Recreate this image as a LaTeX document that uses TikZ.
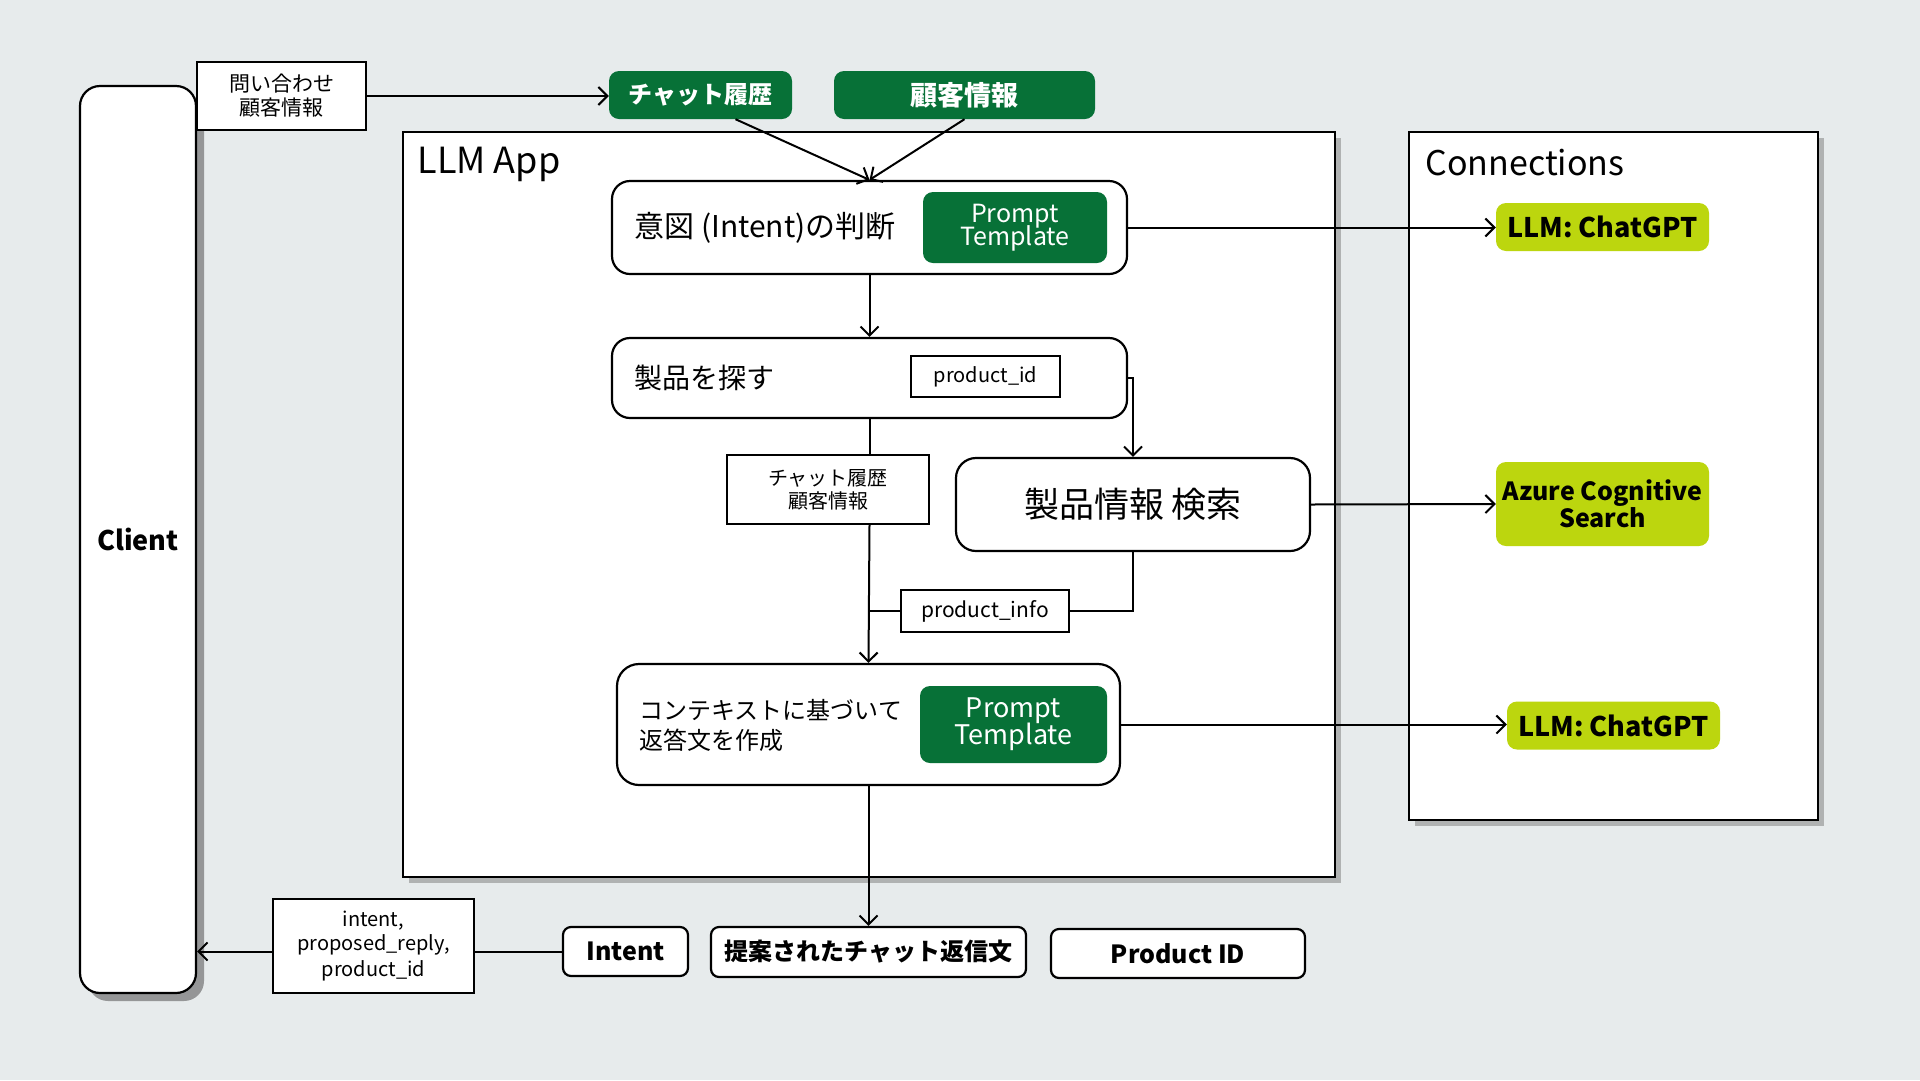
\documentclass[tikz,border=0pt]{standalone}
\usepackage{fontspec}
\setmainfont{Noto Sans CJK JP}
\usetikzlibrary{arrows.meta,shadows,calc}
\definecolor{bgc}{RGB}{231,235,236}
\definecolor{dkgreen}{RGB}{7,113,55}
\definecolor{limec}{RGB}{188,214,14}
\newcommand\fsz[1]{\fontsize{#1}{#1}\selectfont}
\tikzset{
  rbox/.style={draw, line width=2.2pt, fill=white, rounded corners=18pt, inner sep=0pt},
  sqbox/.style={draw, line width=2pt, fill=white, inner sep=0pt, align=center},
  gbox/.style={fill=dkgreen, rounded corners=10pt, text=white, inner sep=0pt, align=center},
  lbox/.style={fill=limec, rounded corners=10pt, inner sep=0pt, align=center},
  wbox/.style={draw, line width=2.2pt, fill=white, rounded corners=8pt, inner sep=0pt, align=center},
  frame/.style={draw, line width=2.2pt, fill=white, inner sep=0pt},
  shad/.style={drop shadow={shadow xshift=6pt, shadow yshift=-6pt, fill=black!45, opacity=0.6}},
  arr/.style={line width=2pt, -{Straight Barb[length=9pt,width=18pt,line width=2pt]}},
  ln/.style={line width=2pt},
}
\begin{document}
\begin{tikzpicture}[x=1pt,y=-1pt]
\path[fill=bgc,use as bounding box] (0,0) rectangle (1920,1080);

% big frames
\node[frame, shad, minimum width=932pt, minimum height=745pt] (app) at (869,504.5) {};
\node[anchor=west, font=\fsz{36}] (applbl) at (414,164) {LLM App};
\node[frame, shad, minimum width=409pt, minimum height=688pt] (conn) at (1613.5,476) {};
\node[anchor=west, font=\fsz{34}] (connlbl) at (1422,163) {Connections};

% client
\node[draw, line width=2.2pt, fill=white, rounded corners=20pt, minimum width=116pt, minimum height=907pt,
      drop shadow={shadow xshift=8pt, shadow yshift=-8pt, fill=black!55, opacity=0.7},
      font=\fsz{27}\bfseries] (client) at (138,539.5) {Client};

% inputs
\node[sqbox, minimum width=169pt, minimum height=68pt, font=\fsz{21}] (q) at (281.5,96) {問い合わせ\\[3pt]顧客情報};
\node[gbox, minimum width=183pt, minimum height=48pt, font=\fsz{24}\bfseries] (chat) at (700.5,95) {チャット履歴};
\node[gbox, minimum width=261pt, minimum height=48pt, font=\fsz{27}\bfseries] (kyk) at (964.5,95) {顧客情報};

% intent
\node[rbox, minimum width=515pt, minimum height=93pt] (intent) at (869.5,227.5) {};
\node[anchor=west, font=\fsz{30}] (intenttx) at (631,228) {意図 (Intent)の判断};
\node[gbox, minimum width=184pt, minimum height=71pt, font=\fsz{25}, align=center] (pt1) at (1015,227.5) {Prompt\\[-4pt]Template};

% search
\node[rbox, minimum width=515pt, minimum height=80pt] (search) at (869.5,378) {};
\node[anchor=west, font=\fsz{28}] (searchtx) at (631,378) {製品を探す};
\node[sqbox, minimum width=149pt, minimum height=41pt, font=\fsz{20}] (pid) at (985.5,376.5) {product\_id};

% info search
\node[rbox, rounded corners=20pt, minimum width=354pt, minimum height=93pt, font=\fsz{35}] (info) at (1133,504.5) {製品情報 検索};

% reply
\node[rbox, rounded corners=22pt, minimum width=503pt, minimum height=121pt] (reply) at (868.5,724.5) {};
\node[anchor=west, align=left, font=\fsz{24}] (replytx) at (636,725) {コンテキストに基づいて\\[6pt]返答文を作成};
\node[gbox, minimum width=187pt, minimum height=77pt, font=\fsz{27}] (pt2) at (1013.5,724.5) {Prompt\\[-2pt]Template};

% connections
\node[lbox, minimum width=213pt, minimum height=48pt, font=\fsz{27}\bfseries] (llm1) at (1602.5,227) {LLM: ChatGPT};
\node[lbox, minimum width=213pt, minimum height=84pt, font=\fsz{25}\bfseries] (azure) at (1602.5,504) {Azure Cognitive\\[0pt]Search};
\node[lbox, minimum width=213pt, minimum height=48pt, font=\fsz{27}\bfseries] (llm2) at (1613.5,725.5) {LLM: ChatGPT};

% outputs
\node[sqbox, minimum width=201pt, minimum height=94pt, font=\fsz{20}] (out) at (373.5,946) {intent,\\[4pt]proposed\_reply,\\[4pt]product\_id};
\node[wbox, minimum width=125pt, minimum height=49pt, font=\fsz{25}\bfseries] (intb) at (625.5,951.5) {Intent};
\node[wbox, minimum width=315pt, minimum height=50pt, font=\fsz{24}\bfseries] (prop) at (868.5,952) {提案されたチャット返信文};
\node[wbox, minimum width=254pt, minimum height=49pt, font=\fsz{25}\bfseries] (prodid) at (1178,953.5) {Product ID};

% context box and product_info
\node[sqbox, minimum width=202pt, minimum height=69pt, font=\fsz{20}] (ctxbox) at (828,489.5) {チャット履歴\\[3pt]顧客情報};
\node[sqbox, minimum width=168pt, minimum height=42pt, font=\fsz{21}] (pinfo) at (985,611) {product\_info};

% connectors
\draw[arr] (q.east) -- (chat.west |- q.east);
\draw[arr] ([xshift=35pt]chat.south) -- (intent.north);
\draw[arr] (kyk.south) -- (intent.north);
\draw[arr] (intent.south) -- (search.north);
\draw[arr] (intent.east) -- (llm1.west |- intent.east);
\draw[arr] (search.east) -| (info.north);
\draw[ln] (search.south) -- (search.south |- ctxbox.north);
\draw[arr] (search.south |- ctxbox.south) -- (reply.north);
\draw[ln] (info.south) |- (pinfo.east);
\draw[ln] (pinfo.west) -- (reply.north |- pinfo.west);
\draw[arr] (info.east) -- (azure.west);
\draw[arr] (reply.east) -- (llm2.west |- reply.east);
\draw[arr] (reply.south) -- (prop.north);
\draw[ln] (intb.west) -- (out.east |- intb.west);
\draw[arr] (out.west |- intb.west) -- (client.east |- intb.west);
\end{tikzpicture}
\end{document}
